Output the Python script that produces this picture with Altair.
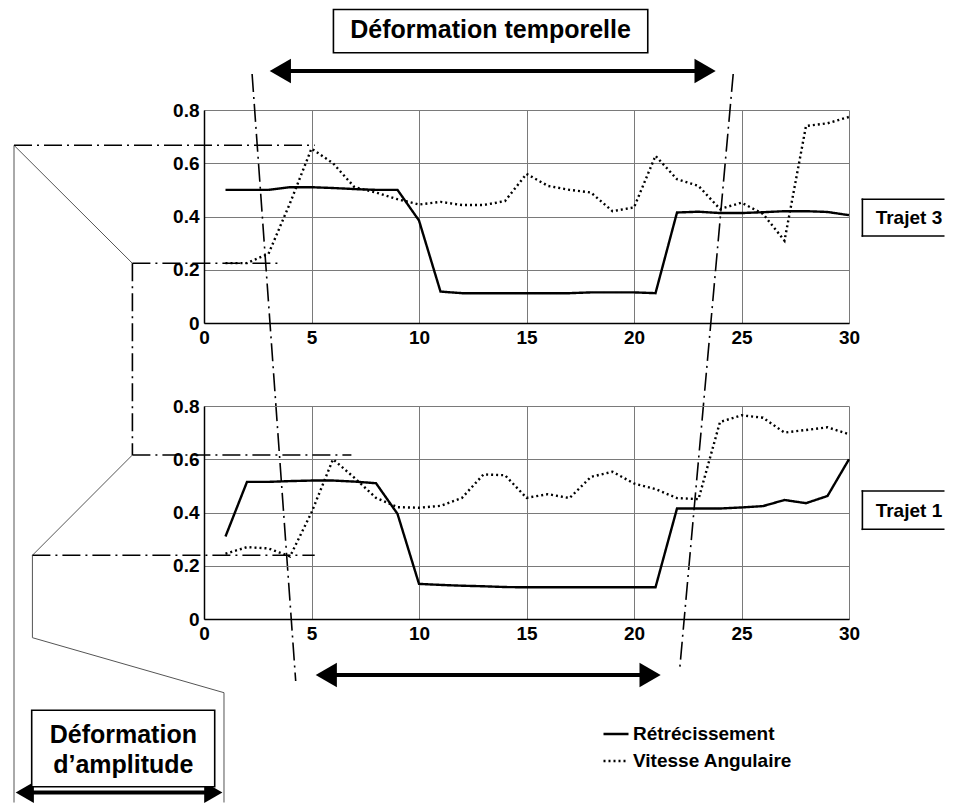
import altair as alt
import pandas as pd

# ---------------- data ----------------
steps = list(range(1, 31))
series_names = ["Rétrécissement", "Vitesse Angulaire"]

trajet3_retrecissement = [0.50, 0.50, 0.50, 0.51, 0.51, 0.507, 0.503, 0.50, 0.50, 0.385,
                          0.118, 0.112, 0.112, 0.112, 0.112, 0.112, 0.112, 0.115, 0.115, 0.115,
                          0.112, 0.415, 0.418, 0.413, 0.413, 0.416, 0.42, 0.42, 0.417, 0.405]
trajet3_vitesse = [0.225, 0.225, 0.26, 0.45, 0.655, 0.60, 0.51, 0.49, 0.465, 0.445,
                   0.455, 0.443, 0.443, 0.458, 0.56, 0.515, 0.50, 0.49, 0.42, 0.434,
                   0.628, 0.54, 0.515, 0.428, 0.452, 0.41, 0.309, 0.74, 0.75, 0.774]
trajet1_retrecissement = [0.31, 0.515, 0.515, 0.518, 0.52, 0.52, 0.516, 0.51, 0.395, 0.132,
                          0.128, 0.125, 0.123, 0.12, 0.119, 0.119, 0.119, 0.119, 0.119, 0.119,
                          0.119, 0.415, 0.415, 0.415, 0.419, 0.424, 0.447, 0.435, 0.462, 0.60]
trajet1_vitesse = [0.245, 0.27, 0.265, 0.235, 0.40, 0.60, 0.53, 0.455, 0.42, 0.418,
                   0.425, 0.455, 0.543, 0.54, 0.455, 0.469, 0.454, 0.534, 0.553, 0.509,
                   0.488, 0.454, 0.45, 0.74, 0.765, 0.756, 0.70, 0.71, 0.72, 0.694]

x_ticks = [0, 5, 10, 15, 20, 25, 30]
y_ticks = [0, 0.2, 0.4, 0.6, 0.8]

# ---------------- annotations (in each panel's data units) ----------------
# top panel (Trajet 3)
top_box = {"x": [6.02], "x2": [20.64], "y": [1.1775], "y2": [1.0152]}
top_box_text = {"x": [13.33], "y": [1.0986], "label": ["Déformation temporelle"]}
top_arrow = {"x": [3.549], "x2": [23.307], "y": [0.9465]}
top_dashdot = {"x": [2.237, 24.614, -8.837, -3.330, -3.330],
               "y": [0.9352, 0.9352, 0.6674, 0.2242, 0.2242],
               "x2": [4.265, 22.126, 5.149, 3.428, -3.330],
               "y2": [-1.3446, -1.2995, 0.6674, 0.2242, -0.4958]}
top_thin = {"x": [-8.837, -8.837], "y": [0.6674, 0.6674],
            "x2": [-8.837, -3.330], "y2": [-1.8010, 0.2242]}
trajet3_frame = {"x": [30.623, 30.623, 30.623], "y": [0.4646, 0.3268, 0.4646],
                 "x2": [34.405, 34.405, 30.623], "y2": [0.4646, 0.3268, 0.3268]}
trajet3_text = {"x": [31.24], "y": [0.3955], "label": ["Trajet 3"]}

# bottom panel (Trajet 1)
bot_dashdot = {"x": [-3.330, -7.981], "y": [0.616, 0.2393],
               "x2": [6.856, 5.149], "y2": [0.616, 0.2393]}
bot_thin = {"x": [-3.330, -7.981, -7.981, 0.930],
            "y": [0.616, 0.2393, -0.0702, -0.2768],
            "x2": [-7.981, -7.981, 0.930, 0.930],
            "y2": [0.2393, -0.0702, -0.2768, -0.6892]}
mid_arrow = {"x": [5.688], "x2": [20.749], "y": [-0.2103]}
amp_arrow = {"x": [-8.335], "x2": [0.433], "y": [-0.6516]}
amp_box = {"x": [-8.014], "x2": [0.498], "y": [-0.3429], "y2": [-0.6299]}
amp_text = {"x": [-3.753, -3.753], "y": [-0.4357, -0.5484],
            "label": ["Déformation", "d’amplitude"]}
trajet1_frame = {"x": [30.623, 30.623, 30.623], "y": [0.4808, 0.3369, 0.4808],
                 "x2": [34.405, 34.405, 30.623], "y2": [0.4808, 0.3369, 0.3369]}
trajet1_text = {"x": [31.24], "y": [0.4056], "label": ["Trajet 1"]}

FONT = "Liberation Sans"
W, H = 645, 213
DASHDOT = [18, 5, 2, 5]

AXIS_X = alt.Axis(values=x_ticks, format="d", grid=True, labelFlush=False,
                  labelPadding=5, ticks=False, tickSize=0, domainColor="black",
                  domainWidth=1.5, gridColor="#7a7a7a", gridWidth=1,
                  labelFont=FONT, labelFontSize=19, labelFontWeight="bold",
                  labelColor="black", title=None)
AXIS_Y = alt.Axis(values=y_ticks, format=".1~f", grid=True, labelPadding=5,
                  ticks=False, tickSize=0, domainColor="black", domainWidth=1.5,
                  gridColor="#7a7a7a", gridWidth=1, labelFont=FONT, labelFontSize=19,
                  labelFontWeight="bold", labelColor="black", title=None)


def xy(xf="x", yf="y"):
    return dict(
        x=alt.X(f"{xf}:Q", scale=alt.Scale(domain=[0, 30], nice=False, zero=False),
                axis=AXIS_X, title=None),
        y=alt.Y(f"{yf}:Q", scale=alt.Scale(domain=[0, 0.8], nice=False, zero=False),
                axis=AXIS_Y, title=None),
    )


def segments(d, **mark):
    return alt.Chart(pd.DataFrame(d)).mark_rule(**mark).encode(
        **xy(), x2="x2:Q", y2="y2:Q")


def box(d):
    return alt.Chart(pd.DataFrame(d)).mark_rect(
        fill="white", stroke="black", strokeWidth=1.6).encode(
        **xy(), x2="x2:Q", y2="y2:Q")


def label(d, size, align="center"):
    return alt.Chart(pd.DataFrame(d)).mark_text(
        font=FONT, fontSize=size, fontWeight="bold", color="black",
        align=align, baseline="middle").encode(**xy(), text="label:N")


def arrows(d, head):
    df = pd.DataFrame(d)
    shaft = alt.Chart(df).mark_rule(color="black", strokeWidth=4).encode(
        **xy(), x2="x2:Q")
    left = alt.Chart(df).mark_point(shape="triangle-left", filled=True, size=head,
                                    color="black", opacity=1, strokeWidth=0).encode(**xy())
    right = alt.Chart(df).mark_point(shape="triangle-right", filled=True, size=head,
                                     color="black", opacity=1, strokeWidth=0).encode(**xy("x2", "y"))
    return [shaft, left, right]


def lines(retr, vit, legend):
    df = pd.DataFrame({
        "x": steps + steps,
        "y": retr + vit,
        "s": [series_names[0]] * len(steps) + [series_names[1]] * len(steps),
    })
    return alt.Chart(df).mark_line(color="black", strokeWidth=2.4).encode(
        **xy(),
        strokeDash=alt.StrokeDash("s:N", scale=alt.Scale(domain=series_names,
                                                        range=[[1, 0], [2, 3]]),
                                  legend=legend),
    )


legend = alt.Legend(orient="none", legendX=398, legendY=314, title=None,
                    symbolType="stroke", symbolSize=625, symbolStrokeWidth=2.4,
                    symbolStrokeColor="black", labelFont=FONT, labelFontSize=19,
                    labelFontWeight="bold", labelColor="black", labelOffset=3,
                    labelLimit=400, rowPadding=3, padding=0, direction="vertical")

thin_style = dict(color="#555555", strokeWidth=1)
dd_style = dict(color="black", strokeWidth=1.6, strokeDash=DASHDOT)
frame_style = dict(color="black", strokeWidth=1.6, strokeCap="square")

top = alt.layer(
    lines(trajet3_retrecissement, trajet3_vitesse, None),
    segments(top_thin, **thin_style),
    segments(top_dashdot, **dd_style),
    *arrows(top_arrow, 600),
    box(top_box), label(top_box_text, 25),
    segments(trajet3_frame, **frame_style), label(trajet3_text, 19, "left"),
).properties(width=W, height=H)

bottom = alt.layer(
    lines(trajet1_retrecissement, trajet1_vitesse, legend),
    segments(bot_thin, **thin_style),
    segments(bot_dashdot, **dd_style),
    *arrows(mid_arrow, 600),
    *arrows(amp_arrow, 441),
    box(amp_box), label(amp_text, 25),
    segments(trajet1_frame, **frame_style), label(trajet1_text, 19, "left"),
).properties(width=W, height=H)

chart = alt.vconcat(top, bottom, spacing=83, bounds="flush").resolve_scale(
    x="independent", y="independent", strokeDash="independent"
).resolve_legend(strokeDash="independent").properties(
    padding={"left": 5, "top": 0, "right": 0, "bottom": 0}
).configure_view(stroke=None)

chart.save("out.html", embed_options={"renderer": "svg", "actions": False})
